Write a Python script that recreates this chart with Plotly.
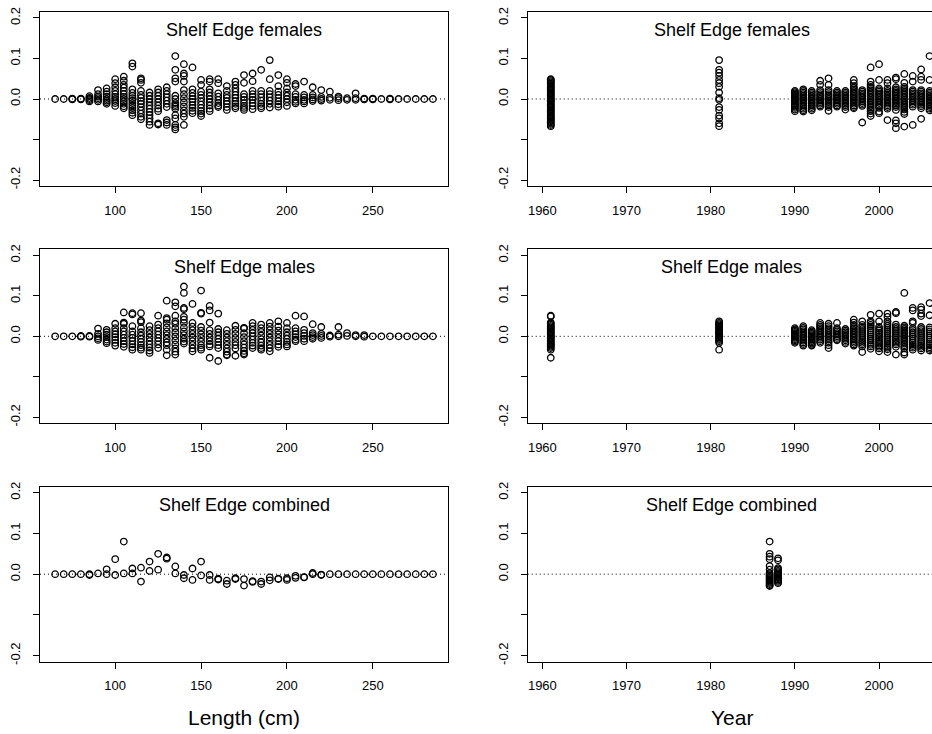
import plotly.graph_objects as go

# ---------------------------------------------------------------------------
# Residuals by length bin (cm)
# ---------------------------------------------------------------------------
LEN_BINS = [65, 70, 75, 80, 85, 90, 95, 100, 105, 110, 115, 120, 125, 130, 135,
            140, 145, 150, 155, 160, 165, 170, 175, 180, 185, 190, 195, 200, 205,
            210, 215, 220, 225, 230, 235, 240, 245, 250, 255, 260, 265, 270, 275,
            280, 285]

FEM_BY_LEN = [
    [0.0],                                                                   # 65
    [0.0],                                                                   # 70
    [0.001, -0.001],                                                         # 75
    [0.001, -0.001],                                                         # 80
    [0.007, 0.003, 0.0, -0.003, -0.006],                                     # 85
    [0.022, 0.012, 0.006, 0.002, -0.002, -0.006],                            # 90
    [0.026, 0.018, 0.012, 0.006, 0.0, -0.004, -0.008, -0.012],               # 95
    [0.049, 0.039, 0.029, 0.02, 0.012, 0.005, 0.0, -0.005, -0.01, -0.017],   # 100
    [0.055, 0.045, 0.035, 0.028, 0.02, 0.012, 0.005, 0.0, -0.006, -0.012,
     -0.018, -0.023],                                                        # 105
    [0.088, 0.08, 0.024, 0.015, 0.008, 0.002, -0.004, -0.01, -0.016, -0.022,
     -0.028, -0.034, -0.04],                                                 # 110
    [0.051, 0.047, 0.04, 0.02, 0.01, 0.003, -0.005, -0.012, -0.02, -0.028,
     -0.036, -0.044, -0.05],                                                 # 115
    [0.016, 0.008, 0.0, -0.008, -0.016, -0.024, -0.032, -0.04, -0.048,
     -0.056, -0.064],                                                        # 120
    [0.024, 0.016, 0.008, 0.0, -0.008, -0.016, -0.024, -0.03, -0.06, -0.063],  # 125
    [0.029, 0.02, 0.012, 0.004, -0.004, -0.012, -0.02, -0.052, -0.058, -0.064],  # 130
    [0.106, 0.072, 0.051, 0.043, 0.008, 0.0, -0.01, -0.015, -0.019, -0.024,
     -0.04, -0.048, -0.064, -0.07, -0.075],                                  # 135
    [0.086, 0.063, 0.057, 0.043, 0.022, 0.012, 0.002, -0.008, -0.018, -0.028,
     -0.036, -0.044, -0.064],                                                # 140
    [0.078, 0.024, 0.015, 0.007, 0.0, -0.007, -0.015, -0.022, -0.029, -0.035],  # 145
    [0.047, 0.035, 0.018, 0.01, 0.002, -0.006, -0.014, -0.022, -0.03, -0.036,
     -0.042],                                                                # 150
    [0.049, 0.043, 0.024, 0.016, 0.008, 0.0, -0.008, -0.016, -0.024, -0.03],  # 155
    [0.049, 0.039, 0.014, 0.006, -0.002, -0.01, -0.016, -0.02],              # 160
    [0.032, 0.02, 0.01, 0.003, -0.005, -0.012, -0.02, -0.027],               # 165
    [0.043, 0.035, 0.026, 0.018, 0.01, 0.003, -0.005, -0.012, -0.018, -0.023],  # 170
    [0.059, 0.04, 0.012, 0.005, -0.002, -0.01, -0.017, -0.022, -0.027],      # 175
    [0.063, 0.044, 0.02, 0.012, 0.005, -0.002, -0.01, -0.017, -0.025],       # 180
    [0.072, 0.02, 0.012, 0.004, -0.004, -0.012, -0.018, -0.023],             # 185
    [0.096, 0.049, 0.02, 0.012, 0.004, -0.004, -0.012, -0.021],              # 190
    [0.059, 0.032, 0.018, 0.01, 0.002, -0.006, -0.013, -0.019],              # 195
    [0.049, 0.04, 0.026, 0.016, 0.008, 0.0, -0.008, -0.017],                 # 200
    [0.037, 0.032, 0.012, 0.005, -0.002, -0.007, -0.011],                    # 205
    [0.043, 0.01, 0.004, -0.002, -0.006, -0.011],                            # 210
    [0.029, 0.01, 0.004, -0.001, -0.005],                                    # 215
    [0.022, 0.005, 0.0, -0.004],                                             # 220
    [0.018, 0.003, -0.002],                                                  # 225
    [0.006, 0.002, -0.003],                                                  # 230
    [0.002, -0.002],                                                         # 235
    [0.014, 0.002, -0.002],                                                  # 240
    [0.001, -0.001],                                                         # 245
    [0.001, -0.001],                                                         # 250
    [0.0],                                                                   # 255
    [0.001, -0.001],                                                         # 260
    [0.0],                                                                   # 265
    [0.0],                                                                   # 270
    [0.0],                                                                   # 275
    [0.0],                                                                   # 280
    [0.0],                                                                   # 285
]

MAL_BY_LEN = [
    [0.0],                                                                   # 65
    [0.0],                                                                   # 70
    [0.0],                                                                   # 75
    [0.001, -0.001],                                                         # 80
    [0.001, -0.001],                                                         # 85
    [0.019, 0.006, 0.0, -0.005, -0.009],                                     # 90
    [0.016, 0.01, 0.004, -0.002, -0.008, -0.013, -0.017],                    # 95
    [0.031, 0.02, 0.012, 0.005, -0.002, -0.009, -0.016, -0.023],             # 100
    [0.059, 0.034, 0.031, 0.02, 0.012, 0.004, -0.004, -0.012, -0.019, -0.026],  # 105
    [0.057, 0.054, 0.025, 0.012, 0.004, -0.004, -0.012, -0.02, -0.027, -0.033],  # 110
    [0.057, 0.039, 0.035, 0.02, 0.01, 0.002, -0.006, -0.014, -0.022, -0.028,
     -0.033],                                                                # 115
    [0.025, 0.015, 0.006, -0.003, -0.012, -0.02, -0.028, -0.035, -0.041],    # 120
    [0.051, 0.029, 0.02, 0.012, 0.004, -0.004, -0.012, -0.02, -0.029],       # 125
    [0.088, 0.045, 0.041, 0.032, 0.022, 0.012, 0.003, -0.006, -0.015, -0.022,
     -0.033, -0.047],                                                        # 130
    [0.084, 0.074, 0.051, 0.037, 0.031, 0.02, 0.01, 0.0, -0.01, -0.02, -0.03,
     -0.038, -0.045],                                                        # 135
    [0.123, 0.107, 0.07, 0.067, 0.048, 0.041, 0.033, 0.022, 0.012, 0.003,
     -0.006, -0.013, -0.018],                                                # 140
    [0.08, 0.033, 0.024, 0.015, 0.006, -0.003, -0.012, -0.021, -0.03, -0.037],  # 145
    [0.113, 0.058, 0.056, 0.023, 0.014, 0.005, -0.004, -0.013, -0.022, -0.028,
     -0.033],                                                                # 150
    [0.075, 0.064, 0.034, 0.015, 0.006, -0.003, -0.012, -0.02, -0.025, -0.053],  # 155
    [0.056, 0.018, 0.01, 0.002, -0.006, -0.014, -0.022, -0.029, -0.061],     # 160
    [0.015, 0.006, -0.003, -0.012, -0.021, -0.03, -0.038, -0.045, -0.047],   # 165
    [0.026, 0.016, 0.006, -0.004, -0.014, -0.022, -0.03, -0.048],            # 170
    [0.021, 0.019, 0.008, -0.002, -0.012, -0.02, -0.028, -0.036, -0.042,
     -0.045],                                                                # 175
    [0.033, 0.025, 0.016, 0.008, 0.0, -0.008, -0.016, -0.023, -0.029],       # 180
    [0.029, 0.02, 0.011, 0.002, -0.007, -0.015, -0.023, -0.029, -0.033],     # 185
    [0.033, 0.024, 0.015, 0.006, -0.003, -0.012, -0.021, -0.029, -0.037],    # 190
    [0.037, 0.024, 0.014, 0.005, -0.004, -0.012, -0.02, -0.026],             # 195
    [0.033, 0.02, 0.01, 0.002, -0.006, -0.014, -0.02, -0.025],               # 200
    [0.051, 0.02, 0.012, 0.005, -0.002, -0.008, -0.012],                     # 205
    [0.049, 0.016, 0.008, 0.001, -0.006, -0.012],                            # 210
    [0.03, 0.008, 0.003, -0.002, -0.006],                                    # 215
    [0.023, 0.006, 0.001, -0.004],                                           # 220
    [0.002, -0.001],                                                         # 225
    [0.023, 0.004, 0.0],                                                     # 230
    [0.008, 0.001],                                                          # 235
    [0.003, 0.0],                                                            # 240
    [0.003, -0.001],                                                         # 245
    [0.0],                                                                   # 250
    [0.0],                                                                   # 255
    [0.0],                                                                   # 260
    [0.0],                                                                   # 265
    [0.0],                                                                   # 270
    [0.0],                                                                   # 275
    [0.0],                                                                   # 280
    [0.0],                                                                   # 285
]

COMB_BY_LEN = [
    [0.0], [0.0], [0.0], [0.0],                      # 65-80
    [0.0, -0.002],                                   # 85
    [0.002],                                         # 90
    [0.012, 0.0],                                    # 95
    [0.037, -0.002],                                 # 100
    [0.08, 0.002],                                   # 105
    [0.014, 0.002],                                  # 110
    [0.016, -0.018],                                 # 115
    [0.031, 0.008],                                  # 120
    [0.05, 0.011],                                   # 125
    [0.041, 0.038],                                  # 130
    [0.019, 0.002],                                  # 135
    [-0.002, -0.01],                                 # 140
    [0.014, -0.014],                                 # 145
    [0.031, -0.003],                                 # 150
    [-0.002, -0.014],                                # 155
    [-0.011, -0.013],                                # 160
    [-0.016, -0.024],                                # 165
    [-0.01, -0.012],                                 # 170
    [-0.012, -0.028],                                # 175
    [-0.017, -0.019],                                # 180
    [-0.018, -0.024],                                # 185
    [-0.008, -0.015],                                # 190
    [-0.011, -0.012],                                # 195
    [-0.01, -0.014],                                 # 200
    [-0.004, -0.009],                                # 205
    [-0.007, -0.008],                                # 210
    [0.003, 0.0],                                    # 215
    [-0.002, -0.001],                                # 220
    [0.0], [0.0], [0.0], [0.0], [0.0], [0.0], [0.0],  # 225-255
    [0.0], [0.0], [0.0], [0.0], [0.0], [0.0],         # 260-285
]

# ---------------------------------------------------------------------------
# Residuals by year
# ---------------------------------------------------------------------------
SEX_YEARS = [1961, 1981, 1990, 1991, 1992, 1993, 1994, 1995, 1996, 1997, 1998,
             1999, 2000, 2001, 2002, 2003, 2004, 2005, 2006]

FEM_BY_YEAR = [
    [0.049, 0.047, 0.044, 0.041, 0.038, 0.035, 0.032, 0.029, 0.026, 0.023,
     0.02, 0.017, 0.014, 0.011, 0.008, 0.005, 0.002, -0.001, -0.004, -0.007,
     -0.01, -0.013, -0.016, -0.019, -0.022, -0.025, -0.028, -0.031, -0.034,
     -0.037, -0.04, -0.043, -0.046, -0.049, -0.052, -0.055, -0.058, -0.061,
     -0.064, -0.067],                                                        # 1961
    [0.096, 0.072, 0.065, 0.057, 0.047, 0.039, 0.03, 0.016, 0.002, -0.002,
     -0.02, -0.027, -0.041, -0.048, -0.06, -0.067],                          # 1981
    [0.02, 0.017, 0.014, 0.011, 0.008, 0.005, 0.002, -0.001, -0.004, -0.007,
     -0.01, -0.013, -0.016, -0.019, -0.022, -0.026, -0.03],                  # 1990
    [0.024, 0.02, 0.016, 0.012, 0.008, 0.004, 0.0, -0.004, -0.008, -0.012,
     -0.016, -0.02, -0.024, -0.028, -0.031],                                 # 1991
    [0.02, 0.016, 0.012, 0.008, 0.004, 0.0, -0.004, -0.008, -0.012, -0.016,
     -0.02, -0.024, -0.028],                                                 # 1992
    [0.045, 0.035, 0.022, 0.017, 0.012, 0.008, 0.004, 0.0, -0.004, -0.008,
     -0.012, -0.016, -0.019],                                                # 1993
    [0.051, 0.035, 0.022, 0.017, 0.012, 0.008, 0.004, 0.0, -0.004, -0.008,
     -0.012, -0.016, -0.02, -0.029],                                         # 1994
    [0.02, 0.016, 0.012, 0.008, 0.004, 0.0, -0.004, -0.008, -0.012, -0.016,
     -0.019],                                                                # 1995
    [0.02, 0.016, 0.012, 0.008, 0.004, 0.0, -0.004, -0.008, -0.012, -0.016,
     -0.02, -0.026],                                                         # 1996
    [0.047, 0.039, 0.032, 0.028, 0.024, 0.02, 0.016, 0.012, 0.008, 0.004,
     0.0, -0.004, -0.008, -0.012, -0.016, -0.02, -0.023],                    # 1997
    [0.022, 0.018, 0.014, 0.01, 0.006, 0.002, -0.002, -0.006, -0.01, -0.014,
     -0.017, -0.058],                                                        # 1998
    [0.078, 0.043, 0.035, 0.03, 0.026, 0.022, 0.018, 0.014, 0.01, 0.006,
     0.002, -0.002, -0.006, -0.01, -0.014, -0.018, -0.022, -0.026, -0.03,
     -0.036, -0.042],                                                        # 1999
    [0.086, 0.047, 0.026, 0.022, 0.018, 0.014, 0.01, 0.006, 0.002, -0.002,
     -0.006, -0.01, -0.014, -0.018, -0.022, -0.031, -0.035],                 # 2000
    [0.047, 0.039, 0.026, 0.02, 0.016, 0.012, 0.008, 0.004, 0.0, -0.004,
     -0.008, -0.012, -0.016, -0.02, -0.024, -0.052],                         # 2001
    [0.053, 0.049, 0.029, 0.024, 0.02, 0.016, 0.012, 0.008, 0.004, 0.0,
     -0.004, -0.008, -0.012, -0.016, -0.02, -0.027, -0.053, -0.06, -0.072],  # 2002
    [0.062, 0.04, 0.03, 0.026, 0.022, 0.018, 0.014, 0.01, 0.006, 0.002,
     -0.002, -0.006, -0.01, -0.014, -0.018, -0.022, -0.026, -0.032, -0.037,
     -0.068],                                                                # 2003
    [0.057, 0.043, 0.022, 0.018, 0.014, 0.01, 0.006, 0.002, -0.002, -0.006,
     -0.01, -0.014, -0.019, -0.064],                                         # 2004
    [0.073, 0.055, 0.047, 0.022, 0.018, 0.014, 0.01, 0.006, 0.002, -0.002,
     -0.006, -0.01, -0.014, -0.018, -0.023, -0.049],                         # 2005
    [0.106, 0.047, 0.02, 0.016, 0.012, 0.008, 0.004, 0.0, -0.004, -0.008,
     -0.012, -0.016, -0.02, -0.024, -0.028],                                 # 2006
]

MAL_BY_YEAR = [
    [0.051, 0.049, 0.034, 0.031, 0.028, 0.025, 0.022, 0.019, 0.016, 0.013,
     0.01, 0.007, 0.004, 0.001, -0.002, -0.005, -0.008, -0.011, -0.014,
     -0.017, -0.02, -0.023, -0.026, -0.029, -0.033, -0.053],                 # 1961
    [0.037, 0.033, 0.03, 0.027, 0.024, 0.021, 0.018, 0.015, 0.012, 0.009,
     0.006, 0.003, 0.0, -0.003, -0.006, -0.009, -0.012, -0.016, -0.033],     # 1981
    [0.02, 0.017, 0.014, 0.011, 0.008, 0.005, 0.002, -0.001, -0.004, -0.007,
     -0.01, -0.013, -0.016],                                                 # 1990
    [0.025, 0.021, 0.017, 0.013, 0.009, 0.005, 0.001, -0.003, -0.007,
     -0.011, -0.015, -0.019, -0.023],                                        # 1991
    [0.015, 0.012, 0.009, 0.006, 0.003, 0.0, -0.003, -0.006, -0.009, -0.012,
     -0.015, -0.018, -0.021, -0.023],                                        # 1992
    [0.033, 0.028, 0.024, 0.02, 0.016, 0.012, 0.008, 0.004, 0.0, -0.004,
     -0.008, -0.012, -0.016],                                                # 1993
    [0.031, 0.025, 0.02, 0.016, 0.012, 0.008, 0.004, 0.0, -0.004, -0.008,
     -0.012, -0.016, -0.022, -0.029],                                        # 1994
    [0.033, 0.02, 0.016, 0.012, 0.008, 0.004, 0.0, -0.004, -0.008, -0.01],   # 1995
    [0.018, 0.014, 0.01, 0.006, 0.002, -0.002, -0.006, -0.01, -0.014,
     -0.018],                                                                # 1996
    [0.041, 0.034, 0.028, 0.024, 0.02, 0.016, 0.012, 0.008, 0.004, 0.0,
     -0.004, -0.008, -0.012, -0.016, -0.02, -0.023],                         # 1997
    [0.037, 0.028, 0.023, 0.018, 0.013, 0.008, 0.003, -0.002, -0.007,
     -0.012, -0.016, -0.02, -0.025, -0.039],                                 # 1998
    [0.053, 0.037, 0.033, 0.028, 0.024, 0.019, 0.014, 0.009, 0.004, -0.001,
     -0.006, -0.011, -0.016, -0.021, -0.025, -0.031],                        # 1999
    [0.056, 0.037, 0.023, 0.018, 0.014, 0.009, 0.005, 0.0, -0.004, -0.009,
     -0.013, -0.018, -0.022, -0.026, -0.03, -0.037],                         # 2000
    [0.056, 0.048, 0.037, 0.031, 0.026, 0.021, 0.016, 0.011, 0.006, 0.001,
     -0.004, -0.009, -0.014, -0.019, -0.024, -0.028, -0.032, -0.039],        # 2001
    [0.06, 0.057, 0.029, 0.023, 0.018, 0.013, 0.008, 0.003, -0.002, -0.007,
     -0.012, -0.016, -0.02, -0.026, -0.045],                                 # 2002
    [0.107, 0.026, 0.022, 0.018, 0.014, 0.01, 0.006, 0.002, -0.002, -0.006,
     -0.01, -0.014, -0.018, -0.022, -0.026, -0.03, -0.04, -0.045],           # 2003
    [0.07, 0.064, 0.037, 0.033, 0.02, 0.015, 0.01, 0.005, 0.0, -0.005,
     -0.01, -0.015, -0.02, -0.024, -0.028, -0.033],                          # 2004
    [0.072, 0.066, 0.056, 0.05, 0.023, 0.018, 0.013, 0.008, 0.003, -0.002,
     -0.007, -0.012, -0.017, -0.022, -0.026, -0.03, -0.035],                 # 2005
    [0.082, 0.052, 0.022, 0.017, 0.012, 0.007, 0.002, -0.003, -0.008,
     -0.013, -0.018, -0.022, -0.027, -0.031, -0.035],                        # 2006
]

COMB_YEARS = [1987, 1988]
COMB_BY_YEAR = [
    [0.08, 0.05, 0.043, 0.037, 0.02, 0.011, 0.003, 0.0, -0.003, -0.006,
     -0.009, -0.012, -0.015, -0.018, -0.021, -0.024, -0.027, -0.029],        # 1987
    [0.039, 0.034, 0.015, 0.012, 0.008, 0.005, 0.002, -0.001, -0.004,
     -0.007, -0.01, -0.013, -0.016, -0.019, -0.022],                         # 1988
]

TITLES = ["Shelf Edge females", "Shelf Edge females",
          "Shelf Edge males", "Shelf Edge males",
          "Shelf Edge combined", "Shelf Edge combined"]

LEN_TICKS = [100, 150, 200, 250]
YEAR_TICKS = [1960, 1970, 1980, 1990, 2000]
RESID_TICKS = [-0.2, -0.1, 0.0, 0.1, 0.2]
RESID_TICKTEXT = ["-0.2", "", "0.0", "0.1", "0.2"]


def flatten(keys, groups):
    xs, ys = [], []
    for k, vals in zip(keys, groups):
        for v in vals:
            xs.append(k)
            ys.append(v)
    return xs, ys


W, H = 932, 734
FONT = "Liberation Sans, Arial, Helvetica, sans-serif"

# plot-box edges in pixels (the year column runs off the right edge)
COL_X = [(40.0, 448.0), (527.7, 936.0)]
ROW_Y = [(12.0, 186.0), (249.3, 423.3), (486.7, 661.7)]

LEN_RANGE = [56.2, 293.8]
YEAR_RANGE = [1958.26, 2006.29]
RESID_RANGE = [-0.2148, 0.2148]

panels = [
    (LEN_BINS, FEM_BY_LEN), (SEX_YEARS, FEM_BY_YEAR),
    (LEN_BINS, MAL_BY_LEN), (SEX_YEARS, MAL_BY_YEAR),
    (LEN_BINS, COMB_BY_LEN), (COMB_YEARS, COMB_BY_YEAR),
]

fig = go.Figure()
layout = dict(
    width=W, height=H, autosize=False,
    margin=dict(l=0, r=0, t=0, b=0),
    paper_bgcolor="white", plot_bgcolor="white",
    showlegend=False,
    font=dict(family=FONT, color="black", size=13),
)
shapes = []
annotations = []

for i, (keys, groups) in enumerate(panels):
    row, col = divmod(i, 2)
    n = i + 1
    xs, ys = flatten(keys, groups)
    xa = "x" if n == 1 else f"x{n}"
    ya = "y" if n == 1 else f"y{n}"
    fig.add_trace(go.Scatter(
        x=xs, y=ys, mode="markers", xaxis=xa, yaxis=ya,
        marker=dict(symbol="circle-open", size=6.5, color="black",
                    line=dict(width=1.3, color="black")),
        hoverinfo="x+y",
    ))

    x0p, x1p = COL_X[col]
    y0p, y1p = ROW_Y[row]
    dom_x = [x0p / W, min(x1p / W, 1.0)]
    dom_y = [1 - y1p / H, 1 - y0p / H]

    if col == 0:
        xrange, xt = LEN_RANGE, LEN_TICKS
    else:
        xrange, xt = YEAR_RANGE, YEAR_TICKS

    layout["xaxis" if n == 1 else f"xaxis{n}"] = dict(
        domain=dom_x, range=xrange, anchor=ya,
        showline=True, mirror=True, linecolor="black", linewidth=1,
        ticks="outside", ticklen=6, tickwidth=1, tickcolor="black",
        tickvals=xt, showgrid=False, zeroline=False,
        tickfont=dict(family=FONT, size=13, color="black"),
        ticklabelstandoff=6, automargin=False,
    )
    layout["yaxis" if n == 1 else f"yaxis{n}"] = dict(
        domain=dom_y, range=RESID_RANGE, anchor=xa,
        showline=True, mirror=(col == 0), linecolor="black", linewidth=1,
        ticks="outside", ticklen=6, tickwidth=1, tickcolor="black",
        tickvals=RESID_TICKS, ticktext=RESID_TICKTEXT, tickangle=-90,
        showgrid=False, zeroline=False,
        tickfont=dict(family=FONT, size=13, color="black"),
        ticklabelstandoff=8, automargin=False,
    )

    # dotted reference line at zero
    shapes.append(dict(
        type="line", xref=f"{xa} domain", yref=ya,
        x0=0, x1=1, y0=0, y1=0,
        line=dict(color="black", width=1, dash="1px,3px"), layer="below",
    ))

    # panel heading inside the box
    annotations.append(dict(
        text=TITLES[i], showarrow=False,
        xref="paper", yref="paper",
        x=((x0p + x1p) / 2) / W, y=1 - (y0p + 18) / H,
        xanchor="center", yanchor="middle",
        font=dict(family=FONT, size=18, color="black"),
    ))

annotations.append(dict(
    text="Length (cm)", showarrow=False, xref="paper", yref="paper",
    x=((COL_X[0][0] + COL_X[0][1]) / 2) / W, y=1 - 717 / H,
    xanchor="center", yanchor="middle",
    font=dict(family=FONT, size=21, color="black"),
))
annotations.append(dict(
    text="Year", showarrow=False, xref="paper", yref="paper",
    x=((COL_X[1][0] + COL_X[1][1]) / 2) / W, y=1 - 717 / H,
    xanchor="center", yanchor="middle",
    font=dict(family=FONT, size=21, color="black"),
))

layout["shapes"] = shapes
layout["annotations"] = annotations
fig.update_layout(**layout)

fig.write_html("out.html")
